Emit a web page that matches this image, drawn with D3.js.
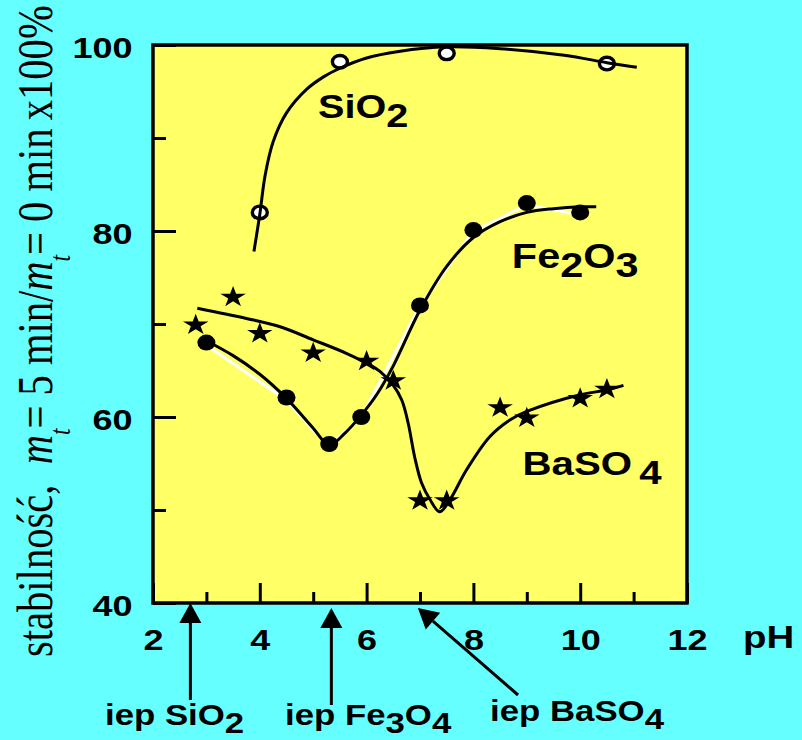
<!DOCTYPE html>
<html>
<head>
<meta charset="utf-8">
<script src="https://cdn.jsdelivr.net/npm/d3@7"></script>
<style>
body{margin:0;background:#66ffff;}
svg{display:block;}
</style>
</head>
<body>
<svg id="chart"></svg>
<script>
// measured points (pH, stability %)
var sio2PH = [4, 5.5, 7.5, 10.5];
var sio2Val = [82, 98.2, 99.1, 98];
var fe2o3PH = [3, 4.5, 5.3, 5.9, 7, 8, 9, 10];
var fe2o3Val = [68, 62.1, 57.1, 60, 72, 80.1, 83, 82];
var baso4PH = [2.8, 3.5, 4, 5, 6, 6.5, 7, 7.5, 8.5, 9, 10, 10.5];
var baso4Val = [70, 73, 69.1, 67, 66.1, 64, 51.1, 51.1, 61.1, 60, 62.1, 63.1];

// fitted curves as drawn in the figure
var sio2FitPH = [3.89, 4.0, 4.1, 4.25, 4.5, 4.87, 5.2, 5.5, 6.0, 6.6, 7.5, 8.5, 9.7, 10.5, 11.06];
var sio2FitVal = [77.8, 81.8, 86.0, 89.6, 92.7, 95.2, 96.6, 97.5, 98.6, 99.3, 99.8, 99.6, 98.9, 98.1, 97.6];
var fe2o3FitPH = [3.0, 3.5, 4.0, 4.5, 5.0, 5.3, 5.6, 5.9, 6.2, 6.5, 7.0, 7.5, 8.0, 8.5, 9.0, 9.5, 10.0, 10.3];
var fe2o3FitVal = [68.2, 66.6, 64.6, 62.0, 58.8, 57.0, 58.3, 60.2, 62.5, 65.5, 71.5, 76.2, 79.3, 81.0, 82.0, 82.4, 82.6, 82.6];
var baso4FitPH = [2.83, 3.75, 4.38, 5.0, 5.62, 6.06, 6.25, 6.5, 6.66, 6.78, 6.9, 7.03, 7.19, 7.37, 7.56, 7.87, 8.31, 8.69, 9.0, 10.0, 10.5, 10.81];
var baso4FitVal = [71.7, 70.6, 69.7, 68.3, 66.85, 65.6, 64.9, 63.4, 61.8, 59.3, 55.7, 52.9, 51.1, 49.8, 51.1, 54.3, 57.9, 59.7, 60.6, 62.4, 62.9, 63.4];

var xMajor = [2, 4, 6, 8, 10, 12];
var xMinor = [3, 5, 7, 9, 11];
var yMajor = [40, 60, 80, 100];
var yMinor = [50, 70, 90];

var seriesNames = ['SiO2', 'Fe2O3', 'BaSO4'];
var namePH = [5.09, 8.72, 8.92];
var nameVal = [92.15, 76.0, 53.8];

var iepNames = ['iep SiO2', 'iep Fe3O4', 'iep BaSO4'];
var iepPH = [2.7, 5.34, 6.96];

var W = 802, H = 740;
var SX = 1.2; // the original figure is stretched sideways
var sans = '"Liberation Sans", Arial, Helvetica, sans-serif';
var serif = '"Liberation Serif", "Times New Roman", serif';

var svg = d3.select('#chart').attr('width', W).attr('height', H);
svg.append('rect').attr('width', W).attr('height', H).attr('fill', '#66ffff');

var x = d3.scaleLinear().domain([2, 12]).range([153, 687]);
var y = d3.scaleLinear().domain([40, 100]).range([603, 45]);

svg.append('rect')
  .attr('x', x(2)).attr('y', y(100))
  .attr('width', x(12) - x(2)).attr('height', y(40) - y(100))
  .attr('fill', '#ffff66');

// text with lowered digits (chemical formulas)
var formula = function(g, str, px, py, fs, shift, gap)
{
  var t = g.append('text')
    .attr('transform', 'translate(' + px + ',' + py + ') scale(' + SX + ',1)')
    .attr('font-family', sans).attr('font-weight', 'bold')
    .attr('font-size', fs).attr('fill', '#000');
  var down = false;
  str.match(/[0-9]+|[^0-9]+/g).forEach(function(p)
  {
    var isNum = /^[0-9]+$/.test(p);
    var ts = t.append('tspan').text(p);
    if (isNum && !down) { ts.attr('dy', shift); if (gap) ts.attr('dx', gap); down = true; }
    else if (!isNum && down) { ts.attr('dy', -shift); down = false; }
  });
  return t;
};

var styleAxis = function(g)
{
  g.select('.domain').remove();
  g.selectAll('line').attr('stroke', '#000').attr('stroke-width', 3);
  g.selectAll('text')
    .attr('font-family', sans).attr('font-weight', 'bold')
    .attr('font-size', 30).attr('fill', '#000')
    .attr('transform', 'scale(' + SX + ',1)');
};

// axes, ticks point inwards
svg.append('g').attr('transform', 'translate(0,' + y(40) + ')')
  .call(d3.axisBottom(x).tickValues(xMinor).tickSizeInner(-11).tickSizeOuter(0).tickFormat(''))
  .call(styleAxis);
svg.append('g').attr('transform', 'translate(0,' + y(40) + ')')
  .call(d3.axisBottom(x).tickValues(xMajor).tickSizeInner(-20).tickSizeOuter(0).tickPadding(26).tickFormat(d3.format('d')))
  .call(styleAxis);
svg.append('g').attr('transform', 'translate(' + x(2) + ',0)')
  .call(d3.axisLeft(y).tickValues(yMinor).tickSizeInner(-13).tickSizeOuter(0).tickFormat(''))
  .call(styleAxis);
svg.append('g').attr('transform', 'translate(' + x(2) + ',0)')
  .call(d3.axisLeft(y).tickValues(yMajor).tickSizeInner(-23).tickSizeOuter(0).tickPadding(17).tickFormat(d3.format('d')))
  .call(styleAxis)
  .selectAll('text').attr('dy', '0.4em');

var plot = svg.append('g');

var smooth = d3.line()
  .x(function(d) { return x(d[0]); })
  .y(function(d) { return y(d[1]); })
  .curve(d3.curveCatmullRom.alpha(0.5));
var straight = d3.line()
  .x(function(d) { return x(d[0]); })
  .y(function(d) { return y(d[1]); });

// white line joining the Fe2O3 points, under the fit
plot.append('path')
  .datum(d3.zip(fe2o3PH, fe2o3Val))
  .attr('d', straight)
  .attr('transform', 'translate(-1,2)')
  .attr('fill', 'none').attr('stroke', '#fff').attr('stroke-width', 3);

// markers
plot.selectAll('.fe').data(d3.zip(fe2o3PH, fe2o3Val)).enter()
  .append('ellipse').attr('class', 'fe')
  .attr('cx', function(d) { return x(d[0]); })
  .attr('cy', function(d) { return y(d[1]); })
  .attr('rx', 9).attr('ry', 8).attr('fill', '#000');

plot.selectAll('.si').data(d3.zip(sio2PH, sio2Val)).enter()
  .append('ellipse').attr('class', 'si')
  .attr('cx', function(d) { return x(d[0]); })
  .attr('cy', function(d) { return y(d[1]); })
  .attr('rx', 7.5).attr('ry', 6.3)
  .attr('fill', '#fff').attr('stroke', '#000').attr('stroke-width', 3.4);

var star = d3.symbol().type(d3.symbolStar).size(140);
plot.selectAll('.ba').data(d3.zip(baso4PH, baso4Val)).enter()
  .append('path').attr('class', 'ba')
  .attr('d', star)
  .attr('transform', function(d) { return 'translate(' + x(d[0]) + ',' + (y(d[1]) + 1) + ') scale(' + SX + ',1)'; })
  .attr('fill', '#000');

// fitted curves
[[sio2FitPH, sio2FitVal], [fe2o3FitPH, fe2o3FitVal], [baso4FitPH, baso4FitVal]].forEach(function(s)
{
  plot.append('path')
    .datum(d3.zip(s[0], s[1]))
    .attr('d', smooth)
    .attr('fill', 'none').attr('stroke', '#000').attr('stroke-width', 3);
});

// frame
svg.append('rect')
  .attr('x', x(2)).attr('y', y(100))
  .attr('width', x(12) - x(2)).attr('height', y(40) - y(100))
  .attr('fill', 'none').attr('stroke', '#000').attr('stroke-width', 3.5);

// series names
var nameSize = [33, 34.5, 33.5];
var nameGap = [0, 0, 6];
seriesNames.forEach(function(n, i)
{
  formula(svg, n, x(namePH[i]), y(nameVal[i]), nameSize[i], 9, nameGap[i]);
});

// pH title
formula(svg, 'pH', 743, 648, 32, 0, 0);

// y title, rotated, letters stretched across
var yt = svg.append('text')
  .attr('font-family', serif).attr('font-size', 40).attr('fill', '#000');
yt.append('tspan').text('stabilność,\u2002');
yt.append('tspan').attr('font-style', 'italic').text('m');
yt.append('tspan').attr('font-style', 'italic').attr('font-size', 23).attr('dy', 14).text('t');
yt.append('tspan').attr('dy', -14).text('= 5 min/');
yt.append('tspan').attr('font-style', 'italic').text('m');
yt.append('tspan').attr('font-style', 'italic').attr('font-size', 23).attr('dy', 14).text('t');
yt.append('tspan').attr('dy', -14).text('= 0 min\u2009x100%');
var ytLen = yt.node().getBBox().width;
yt.attr('transform', 'translate(52,657) rotate(-90) scale(' + (652 / ytLen) + ',1.25)');

// isoelectric point arrows
var arrow = function(tx, ty, ex, ey)
{
  var dx = ex - tx, dy = ey - ty, len = Math.sqrt(dx * dx + dy * dy);
  var ux = dx / len, uy = dy / len;
  var hl = 20, hw = 11;
  var bx = tx + ux * hl, by = ty + uy * hl;
  svg.append('line')
    .attr('x1', bx).attr('y1', by).attr('x2', ex).attr('y2', ey)
    .attr('stroke', '#000').attr('stroke-width', 3);
  svg.append('path')
    .attr('d', d3.line()([[tx, ty], [bx - uy * hw, by + ux * hw], [bx + uy * hw, by - ux * hw]]) + 'Z')
    .attr('fill', '#000');
};
arrow(x(iepPH[0]), 603, x(iepPH[0]), 700);
arrow(x(iepPH[1]), 608, x(iepPH[1]), 705);
arrow(x(iepPH[2]), 608, 518, 695);

formula(svg, iepNames[0], 105, 725, 29, 8, 0);
formula(svg, iepNames[1], 285, 725, 29, 8, 0);
formula(svg, iepNames[2], 490, 721, 29, 8, 0);
</script>
</body>
</html>
